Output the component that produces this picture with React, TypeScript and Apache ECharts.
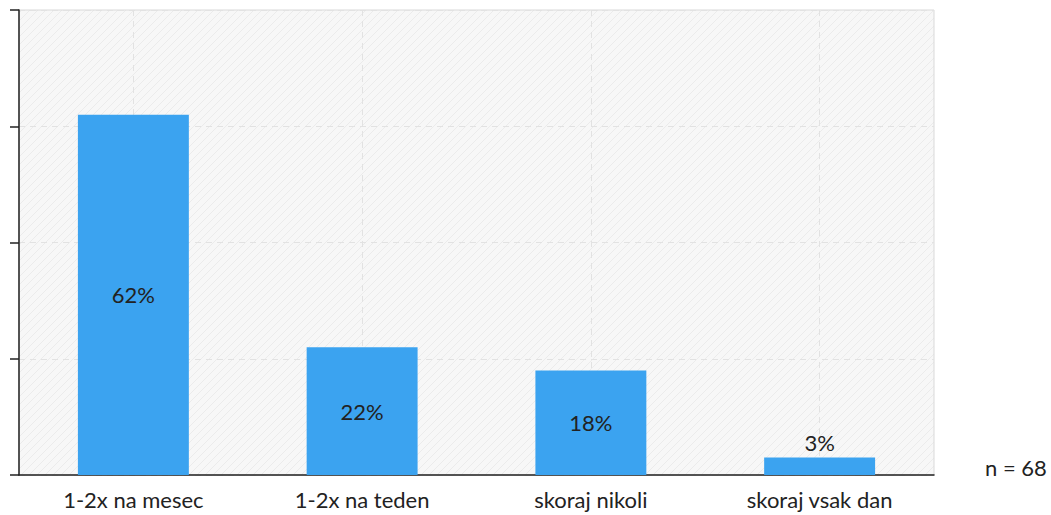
import React, { useEffect, useRef } from "react";
import * as echarts from "echarts";

const categories = ["1-2x na mesec", "1-2x na teden", "skoraj nikoli", "skoraj vsak dan"];
const values = [62, 22, 18, 3];
const labelPositions = ["inside", "inside", "inside", "top"];
const sampleNote = "n = 68";

function makeHatch(): HTMLCanvasElement {
  const c = document.createElement("canvas");
  c.width = 8;
  c.height = 8;
  const ctx = c.getContext("2d")!;
  ctx.fillStyle = "#f7f7f7";
  ctx.fillRect(0, 0, 8, 8);
  ctx.strokeStyle = "#ebebeb";
  ctx.lineWidth = 1;
  ctx.beginPath();
  ctx.moveTo(0, 8);
  ctx.lineTo(8, 0);
  ctx.moveTo(-4, 4);
  ctx.lineTo(4, -4);
  ctx.moveTo(4, 12);
  ctx.lineTo(12, 4);
  ctx.stroke();
  return c;
}

export default function App() {
  const ref = useRef<HTMLDivElement>(null);
  useEffect(() => {
    document.body.style.margin = "0";
    const chart = echarts.init(ref.current!, null, { renderer: "svg" });
    const font = "Lato, 'Open Sans', sans-serif";
    chart.setOption({
      animation: false,
      textStyle: { fontFamily: font },
      grid: {
        left: 19,
        right: 117,
        top: 10,
        bottom: 40,
        show: true,
        backgroundColor: { image: makeHatch(), repeat: "repeat" },
        borderColor: "#d9d9d9",
        borderWidth: 1,
      },
      xAxis: {
        type: "category",
        data: categories,
        axisLine: { lineStyle: { color: "#222", width: 1.5 } },
        axisTick: { alignWithLabel: true, length: 8, lineStyle: { color: "#222", width: 1.5 } },
        axisLabel: { color: "#222", fontSize: 22, margin: 13, fontFamily: font },
        splitLine: { show: true, alignWithLabel: true, lineStyle: { color: "#e2e2e2", type: [6, 5] } },
      },
      yAxis: {
        type: "value",
        min: 0,
        max: 80,
        interval: 20,
        axisLine: { show: true, lineStyle: { color: "#222", width: 1.5 } },
        axisTick: { show: true, length: 9, lineStyle: { color: "#222", width: 1.5 } },
        axisLabel: { show: false },
        splitLine: { show: true, lineStyle: { color: "#e2e2e2", type: [6, 5] } },
      },
      series: [
        {
          type: "bar",
          barWidth: "48.5%",
          data: values.map((v, i) => ({
            value: v,
            label: { position: labelPositions[i] },
          })),
          itemStyle: { color: "#3ba3f0" },
          label: {
            show: true,
            formatter: "{c}%",
            color: "#222",
            fontSize: 22,
            fontFamily: font,
            distance: 4,
          },
        },
      ],
      graphic: [
        {
          type: "text",
          left: 985,
          top: 456,
          style: { text: sampleNote, fill: "#222", fontSize: 22, fontFamily: font },
        },
      ],
    });
    return () => chart.dispose();
  }, []);
  return <div ref={ref} style={{ width: 1051, height: 515 }} />;
}
